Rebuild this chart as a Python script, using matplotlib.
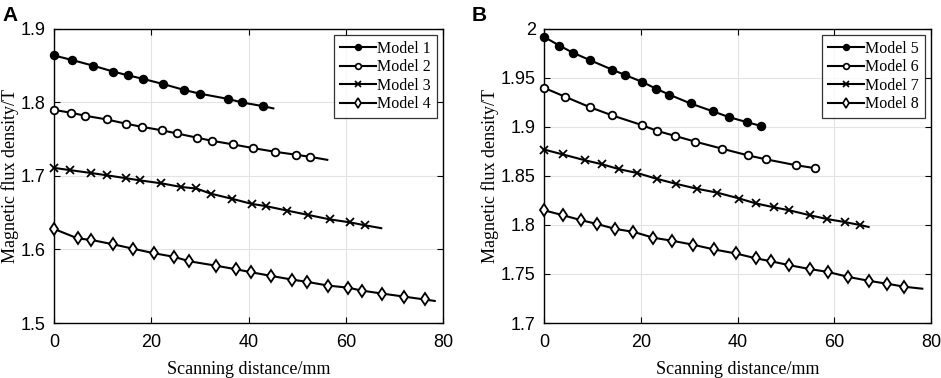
import matplotlib
matplotlib.use("Agg")
import matplotlib.pyplot as plt
from matplotlib.lines import Line2D

# ---------------- data ----------------
m1_x = [0, 3.6, 8.1, 12.2, 15.2, 18.4, 22.5, 26.8, 30.0, 35.7, 38.7, 43.0]
m1_y = [1.864, 1.858, 1.850, 1.842, 1.837, 1.832, 1.825, 1.817, 1.812, 1.805, 1.800, 1.795]
m1_end = (45.1, 1.792)

m2_x = [0, 3.5, 6.4, 10.8, 14.9, 18.0, 22.3, 25.2, 29.5, 32.4, 36.8, 40.9, 45.4, 49.7, 52.7]
m2_y = [1.790, 1.786, 1.782, 1.777, 1.771, 1.767, 1.762, 1.758, 1.752, 1.748, 1.743, 1.738, 1.733, 1.729, 1.726]
m2_end = (56.2, 1.722)

m3_x = [0, 3.3, 7.7, 10.8, 14.8, 17.7, 22.1, 26.2, 29.3, 32.2, 36.6, 40.7, 43.6, 47.9, 52.3, 56.7, 60.8, 63.9]
m3_y = [1.711, 1.708, 1.704, 1.701, 1.697, 1.694, 1.690, 1.685, 1.683, 1.676, 1.669, 1.662, 1.659, 1.653, 1.647, 1.641, 1.637, 1.633]
m3_end = (67.3, 1.629)

m4_x = [0, 4.9, 7.7, 12.2, 16.3, 20.5, 24.7, 27.8, 33.3, 37.5, 40.6, 44.7, 49.0, 52.0, 56.3, 60.5, 63.4, 67.5, 71.9, 76.2]
m4_y = [1.628, 1.615, 1.613, 1.607, 1.601, 1.595, 1.590, 1.584, 1.578, 1.573, 1.569, 1.564, 1.559, 1.556, 1.551, 1.548, 1.544, 1.540, 1.536, 1.532]
m4_end = (78.3, 1.530)

m5_x = [0, 3.2, 5.9, 9.6, 14.1, 16.8, 20.3, 23.2, 25.9, 30.3, 34.9, 38.3, 41.9, 44.9]
m5_y = [1.992, 1.983, 1.976, 1.968, 1.9585, 1.953, 1.946, 1.939, 1.933, 1.924, 1.916, 1.910, 1.905, 1.901]
m5_end = (44.9, 1.901)

m6_x = [0, 4.3, 9.6, 14.0, 20.2, 23.4, 27.0, 31.3, 36.7, 42.2, 45.9, 52.1, 56.0]
m6_y = [1.940, 1.931, 1.920, 1.912, 1.902, 1.896, 1.891, 1.885, 1.878, 1.871, 1.867, 1.861, 1.858]
m6_end = (56.0, 1.858)

m7_x = [0, 3.9, 8.5, 12.0, 15.5, 19.3, 23.4, 27.3, 31.6, 35.8, 40.4, 43.8, 47.6, 50.7, 54.9, 58.6, 62.2, 65.3]
m7_y = [1.877, 1.872, 1.866, 1.862, 1.857, 1.853, 1.847, 1.842, 1.837, 1.833, 1.827, 1.822, 1.818, 1.815, 1.810, 1.806, 1.803, 1.800]
m7_end = (67.1, 1.798)

m8_x = [0, 3.9, 7.6, 11.0, 14.7, 18.5, 22.6, 26.4, 30.7, 35.2, 39.6, 43.8, 46.9, 50.7, 55.0, 58.8, 62.9, 67.2, 71.0, 74.5]
m8_y = [1.815, 1.810, 1.805, 1.801, 1.796, 1.793, 1.787, 1.784, 1.780, 1.775, 1.771, 1.766, 1.763, 1.759, 1.755, 1.752, 1.747, 1.743, 1.740, 1.737]
m8_end = (78.2, 1.735)

labels_a = ["Model 1", "Model 2", "Model 3", "Model 4"]
labels_b = ["Model 5", "Model 6", "Model 7", "Model 8"]
x_ticks = [0, 20, 40, 60, 80]
ya_ticks = [1.5, 1.6, 1.7, 1.8, 1.9]
ya_ticklabels = ["1.5", "1.6", "1.7", "1.8", "1.9"]
yb_ticks = [1.7, 1.75, 1.8, 1.85, 1.9, 1.95, 2.0]
yb_ticklabels = ["1.7", "1.75", "1.8", "1.85", "1.9", "1.95", "2"]

# ---------------- style ----------------
SERIF = ["Liberation Serif", "DejaVu Serif"]
SANS = ["Liberation Sans", "DejaVu Sans"]
markers = [("o", "black", 5.5), ("o", "white", 5.5), ("x", "black", 5.5), ("d", "white", 6.5)]

fig = plt.figure(figsize=(9.41, 3.78), dpi=100)
axA = fig.add_axes([0.0574, 0.1455, 0.4134, 0.7778])
axB = fig.add_axes([0.5781, 0.1455, 0.4113, 0.7778])

def draw(ax, series, labels, yt, ytl, ylim):
    handles = []
    for (xs, ys, end), (mk, fc, ms), lab in zip(series, markers, labels):
        lx = list(xs) + [end[0]]
        ly = list(ys) + [end[1]]
        ax.plot(lx, ly, color="black", lw=1.5, zorder=3, clip_on=False)
        ax.plot(xs, ys, linestyle="none", marker=mk, markersize=ms,
                markerfacecolor=fc, markeredgecolor="black",
                markeredgewidth=1.3, zorder=4, clip_on=False)
        handles.append(Line2D([], [], color="black", lw=1.5, marker=mk,
                              markersize=ms * 0.75, markerfacecolor=fc,
                              markeredgecolor="black", markeredgewidth=1.2))
    ax.set_xlim(0, 80)
    ax.set_ylim(*ylim)
    ax.set_xticks(x_ticks)
    ax.set_xticklabels([str(t) for t in x_ticks])
    ax.set_yticks(yt)
    ax.set_yticklabels(ytl)
    ax.grid(True, color="#e3e3e3", lw=0.8)
    ax.set_axisbelow(True)
    ax.tick_params(direction="in", length=4, width=0.8, labelsize=13,
                   top=True, right=True)
    ax.tick_params(axis="x", pad=8)
    ax.tick_params(axis="y", pad=6)
    for lbl in ax.get_xticklabels() + ax.get_yticklabels():
        lbl.set_family(SANS)
    for sp in ax.spines.values():
        sp.set_linewidth(1.0)
    ax.set_xlabel("Scanning distance/mm", family=SERIF, fontsize=13, labelpad=7)
    ax.set_ylabel("Magnetic flux density/T", family=SERIF, fontsize=13, labelpad=1)
    leg = ax.legend(handles, labels, loc="upper right", prop={"family": SERIF, "size": 11.5},
                    frameon=True, fancybox=False, edgecolor="black",
                    handlelength=2.3, handletextpad=0.05, borderpad=0.35,
                    labelspacing=0.15, borderaxespad=0.4)
    leg.get_frame().set_linewidth(0.9)

draw(axA, [(m1_x, m1_y, m1_end), (m2_x, m2_y, m2_end), (m3_x, m3_y, m3_end), (m4_x, m4_y, m4_end)],
     labels_a, ya_ticks, ya_ticklabels, (1.5, 1.9))
draw(axB, [(m5_x, m5_y, m5_end), (m6_x, m6_y, m6_end), (m7_x, m7_y, m7_end), (m8_x, m8_y, m8_end)],
     labels_b, yb_ticks, yb_ticklabels, (1.7, 2.0))

fig.text(0.003, 0.985, "A", family=SANS, fontsize=15, fontweight="bold", va="top", ha="left")
fig.text(0.501, 0.985, "B", family=SANS, fontsize=15, fontweight="bold", va="top", ha="left")

fig.savefig("out.png", dpi=100)
